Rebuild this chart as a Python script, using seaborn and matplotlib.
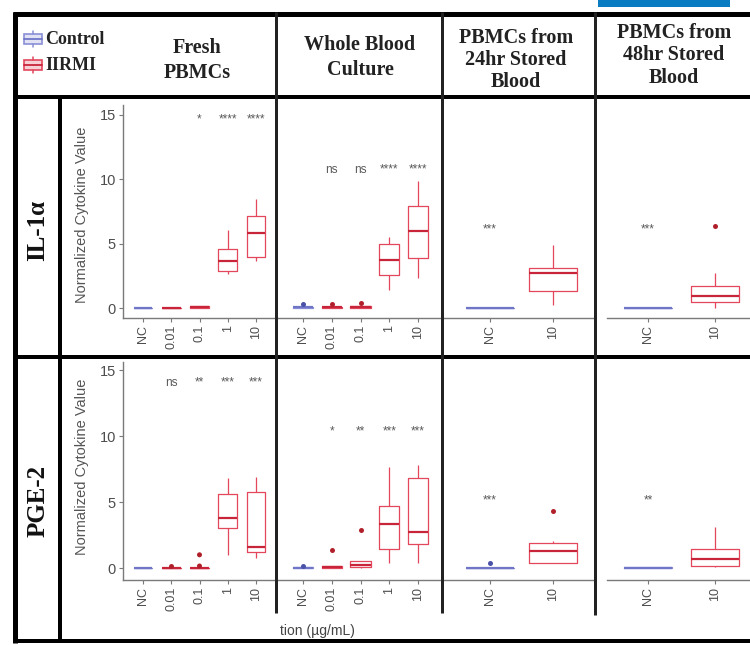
import matplotlib
matplotlib.use("Agg")
import matplotlib.pyplot as plt
import pandas as pd
import seaborn as sns
from matplotlib.patches import Rectangle

# ------------------------------------------------------------------ data
dose_fresh = ["NC", "0.01", "0.1", "1", "10"]
dose_stored = ["NC", "10"]
group_fresh = ["Control", "IIRMI", "IIRMI", "IIRMI", "IIRMI"]
group_stored = ["Control", "IIRMI"]

# five-number summaries per dose: (lower whisker, Q1, median, Q3, upper whisker)
il1a_fresh = [(0, 0, 0, 0, 0), (0, 0, 0, 0, 0), (0, 0.02, 0.06, 0.12, 0.15),
              (2.65, 2.9, 3.65, 4.6, 6.1), (3.65, 3.95, 5.8, 7.15, 8.5)]
il1a_whole = [(0, 0.02, 0.05, 0.1, 0.12), (0, 0.02, 0.05, 0.1, 0.12), (0, 0.02, 0.06, 0.12, 0.15),
              (1.4, 2.6, 3.7, 5.0, 5.55), (2.35, 3.9, 6.0, 7.95, 9.85)]
il1a_24hr = [(0, 0, 0, 0, 0), (0.2, 1.3, 2.7, 3.1, 4.9)]
il1a_48hr = [(0, 0, 0, 0, 0), (0.0, 0.45, 0.95, 1.7, 2.7)]
pge2_fresh = [(0, 0, 0, 0, 0), (0, 0, 0, 0.02, 0.05), (0, 0, 0, 0.02, 0.05),
              (1.0, 3.05, 3.8, 5.6, 6.8), (0.75, 1.2, 1.6, 5.75, 6.9)]
pge2_whole = [(0, 0, 0.03, 0.08, 0.1), (0, 0.02, 0.05, 0.12, 0.15), (0, 0.1, 0.25, 0.5, 0.55),
              (0.4, 1.45, 3.35, 4.7, 7.65), (0.4, 1.8, 2.7, 6.8, 7.8)]
pge2_24hr = [(0, 0, 0, 0.03, 0.05), (0.35, 0.4, 1.3, 1.9, 2.05)]
pge2_48hr = [(0, 0, 0.03, 0.08, 0.1), (0.05, 0.15, 0.7, 1.45, 3.1)]

# outlying points (dose, value)
il1a_fresh_out = []
il1a_whole_out = [("NC", 0.3), ("0.01", 0.3), ("0.1", 0.35)]
il1a_24hr_out = []
il1a_48hr_out = [("10", 6.4)]
pge2_fresh_out = [("0.01", 0.15), ("0.1", 0.15), ("0.1", 1.0)]
pge2_whole_out = [("NC", 0.15), ("0.01", 1.35), ("0.1", 2.85)]
pge2_24hr_out = [("NC", 0.35), ("10", 4.3)]
pge2_48hr_out = []

# significance labels vs control
il1a_fresh_sig = ["", "", "*", "****", "****"]
il1a_whole_sig = ["", "ns", "ns", "****", "****"]
il1a_24hr_sig = ["***", ""]
il1a_48hr_sig = ["***", ""]
pge2_fresh_sig = ["", "ns", "**", "***", "***"]
pge2_whole_sig = ["", "*", "**", "***", "***"]
pge2_24hr_sig = ["***", ""]
pge2_48hr_sig = ["**", ""]
il1a_fresh_sig_y, il1a_whole_sig_y, il1a_stored_sig_y = 14.4, 10.5, 5.9
pge2_fresh_sig_y, pge2_whole_sig_y, pge2_stored_sig_y = 13.8, 10.1, 4.9

y_ticks = [0, 5, 10, 15]
col_titles = [["Fresh", "PBMCs"], ["Whole Blood", "Culture"],
              ["PBMCs from", "24hr Stored", "Blood"], ["PBMCs from", "48hr Stored", "Blood"]]
row_titles = ["IL-1\u03b1", "PGE-2"]
legend_labels = ["Control", "IIRMI"]

# ------------------------------------------------------------------ style
sns.set_theme(style="white")
plt.rcParams["font.family"] = ["Liberation Sans", "DejaVu Sans"]
SERIF = ["Liberation Serif", "DejaVu Serif"]

LINE = {"Control": "#8a8fd6", "IIRMI": "#e2475c"}
MED = {"Control": "#6f76c8", "IIRMI": "#c8253a"}
DOT = {"Control": "#4a52a8", "IIRMI": "#b0202a"}
AXC = "#7a7a7a"
TXT = "#4d4d4d"

W, H = 750, 645
fig = plt.figure(figsize=(W / 100, H / 100), dpi=100)
fig.patch.set_facecolor("white")


def px_axes(x0, y0, x1, y1):
    return fig.add_axes([x0 / W, 1 - y1 / H, (x1 - x0) / W, (y1 - y0) / H])


def panel(ax, cats, groups, summ, outl, sig, sig_y, width):
    df = pd.DataFrame([(c, g, v) for c, g, s in zip(cats, groups, summ) for v in s],
                      columns=["dose", "group", "value"])
    for g in ["Control", "IIRMI"]:
        sub = df[df["group"] == g]
        if len(sub) == 0:
            continue
        sns.boxplot(data=sub, x="dose", y="value", order=cats, whis=(0, 100), width=width,
                    fill=False, color=LINE[g], linewidth=0.9, showcaps=False,
                    medianprops=dict(color=MED[g], linewidth=1.6), ax=ax)
    if outl:
        od = pd.DataFrame(outl, columns=["dose", "value"])
        od["group"] = [groups[cats.index(d)] for d in od["dose"]]
        sns.stripplot(data=od, x="dose", y="value", order=cats, hue="group", palette=DOT,
                      jitter=False, size=3.6, legend=False, ax=ax)
    for i, s in enumerate(sig):
        if s:
            ax.text(i, sig_y, s, ha="center", va="baseline", fontsize=8.5, color="#5a5a5a")
    ax.set_xlabel("")
    ax.set_ylabel("")
    ax.set_facecolor("none")
    for sp in ["top", "right"]:
        ax.spines[sp].set_visible(False)
    ax.spines["bottom"].set_color(AXC)
    ax.spines["bottom"].set_linewidth(1.0)
    ax.tick_params(axis="x", length=3, width=0.8, color=AXC, labelsize=9,
                   labelcolor=TXT, pad=2, bottom=True)
    for lab in ax.get_xticklabels():
        lab.set_rotation(90)
        lab.set_va("top")
        lab.set_ha("center")


# pixel layout of panels: (x0, x1, first category px, category step px)
cols = [(123, 277, 143, 28.25), (277, 443, 303, 28.75), (443, 595, 490, 63.0), (607, 750, 648, 67.0)]
# rows: (top px, axis px, zero px, px per unit)
rows = [(105, 318, 308, 12.867), (362, 580, 568, 13.2)]

data = [
    [(dose_fresh, group_fresh, il1a_fresh, il1a_fresh_out, il1a_fresh_sig, il1a_fresh_sig_y, 0.66),
     (dose_fresh, group_fresh, il1a_whole, il1a_whole_out, il1a_whole_sig, il1a_whole_sig_y, 0.7),
     (dose_stored, group_stored, il1a_24hr, il1a_24hr_out, il1a_24hr_sig, il1a_stored_sig_y, 0.77),
     (dose_stored, group_stored, il1a_48hr, il1a_48hr_out, il1a_48hr_sig, il1a_stored_sig_y, 0.73)],
    [(dose_fresh, group_fresh, pge2_fresh, pge2_fresh_out, pge2_fresh_sig, pge2_fresh_sig_y, 0.66),
     (dose_fresh, group_fresh, pge2_whole, pge2_whole_out, pge2_whole_sig, pge2_whole_sig_y, 0.7),
     (dose_stored, group_stored, pge2_24hr, pge2_24hr_out, pge2_24hr_sig, pge2_stored_sig_y, 0.77),
     (dose_stored, group_stored, pge2_48hr, pge2_48hr_out, pge2_48hr_sig, pge2_stored_sig_y, 0.73)],
]

for r, (ytop, yaxis, yzero, ppu) in enumerate(rows):
    for c, (x0, x1, xfirst, step) in enumerate(cols):
        ax = px_axes(x0, ytop, x1, yaxis)
        cats, groups, summ, outl, sig, sig_y, width = data[r][c]
        panel(ax, cats, groups, summ, outl, sig, sig_y, width)
        ax.set_xlim((x0 - xfirst) / step, (x1 - xfirst) / step)
        ax.set_ylim(-(yaxis - yzero) / ppu, (yzero - ytop) / ppu)
        if c == 0:
            ax.set_yticks(y_ticks)
            ax.spines["left"].set_color(AXC)
            ax.spines["left"].set_linewidth(1.0)
            ax.tick_params(axis="y", left=True, length=3, width=0.8, color=AXC,
                           labelsize=10.5, labelcolor=TXT, pad=2)
        else:
            ax.spines["left"].set_visible(False)
            ax.set_yticks([])

# ------------------------------------------------------------------ table overlay
ov = fig.add_axes([0, 0, 1, 1])
ov.set_xlim(0, W)
ov.set_ylim(H, 0)
ov.axis("off")
ov.patch.set_alpha(0)
ov.set_zorder(10)


def hline(y, x0, x1, lw):
    ov.plot([x0, x1], [y, y], color="black", lw=lw * 0.72, solid_capstyle="butt")


def vline(x, y0, y1, lw, color="black"):
    ov.plot([x, x], [y0, y1], color=color, lw=lw * 0.72, solid_capstyle="butt")


ov.add_patch(Rectangle((598, 0), 132, 7, color="#0a7cc1", lw=0))
hline(14, 13, 750, 5)
hline(97, 13, 750, 4)
hline(357, 13, 750, 4)
hline(641, 13, 750, 4)
vline(15, 12, 643, 5)
vline(60, 97, 643, 4)
vline(276, 12, 613, 3, "#222222")
vline(442, 12, 613, 3, "#222222")
vline(595, 12, 615, 3, "#222222")

# legend icons
for (yc, g) in [(39, "Control"), (65, "IIRMI")]:
    ov.add_patch(Rectangle((24, yc - 5), 18, 10, facecolor=LINE[g], alpha=0.25, lw=0))
    ov.add_patch(Rectangle((24, yc - 5), 18, 10, fill=False, edgecolor=LINE[g], lw=1.2))
    ov.plot([24, 42], [yc, yc], color=MED[g], lw=1.3)
    ov.plot([33, 33], [yc - 8, yc - 5], color=LINE[g], lw=1.1)
    ov.plot([33, 33], [yc + 5, yc + 8], color=LINE[g], lw=1.1)
for (yc, lab) in [(40, legend_labels[0]), (65, legend_labels[1])]:
    ov.text(45, yc, lab, ha="left", va="center", fontsize=13, fontweight="bold",
            family=SERIF, color="#222222")

# column headers
header_pos = [(197, [48, 73]), (360, [45, 70]), (516, [38, 60, 82]), (674, [33, 55, 78])]
for (xc, ys), lines in zip(header_pos, col_titles):
    for y, t in zip(ys, lines):
        ov.text(xc, y, t, ha="center", va="center", fontsize=14.5, fontweight="bold",
                family=SERIF, color="#222222")

# row headers
for yc, t in zip([230, 501], row_titles):
    ov.text(38, yc, t, ha="center", va="center", rotation=90, fontsize=18,
            fontweight="bold", family=SERIF, color="#111111")

# axis titles
for yc in [215, 467]:
    ov.text(82, yc, "Normalized Cytokine Value", ha="center", va="center", rotation=90,
            fontsize=10.5, color="#555555")
ov.text(280, 631, "tion (\u00b5g/mL)", ha="left", va="center", fontsize=10, color="#444444")

fig.savefig("out.png", dpi=100, facecolor="white")
